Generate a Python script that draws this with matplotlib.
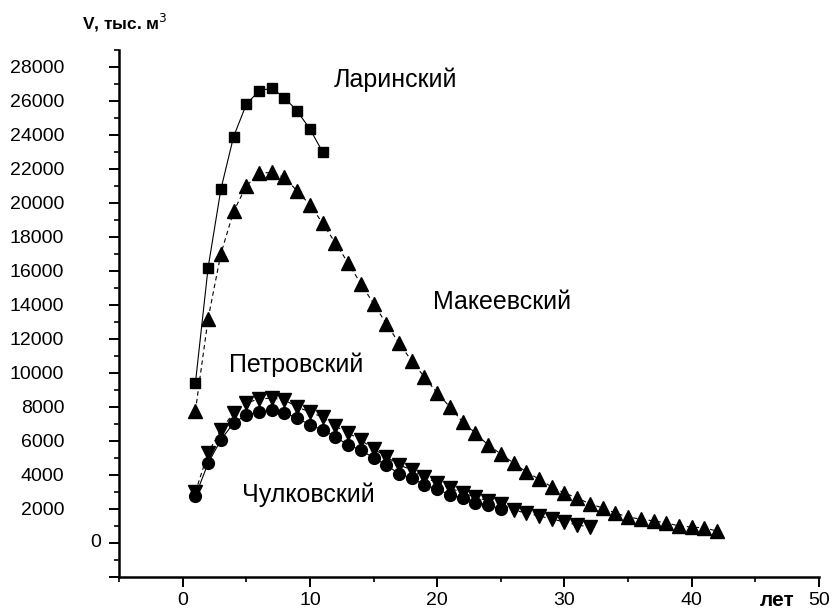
import matplotlib
matplotlib.use("Agg")
import matplotlib.pyplot as plt
from matplotlib.ticker import MultipleLocator, FuncFormatter
import matplotlib.transforms as mtransforms

plt.rcParams["font.family"] = ["Liberation Sans", "DejaVu Sans"]

# years
years_lar = list(range(1, 12))
years_mak = list(range(1, 43))
years_pet = list(range(1, 33))
years_chu = list(range(1, 26))

# V, thousand m3
larinsky = [9400, 16200, 20800, 23900, 25800, 26600, 26750, 26200, 25400, 24350, 23000]
makeevsky = [7760, 13200, 17000, 19500, 21000, 21750, 21800, 21500, 20700, 19900,
             18800, 17650, 16470, 15250, 14080, 12900, 11760, 10700, 9760, 8820,
             8000, 7120, 6470, 5760, 5240, 4700, 4180, 3760, 3300, 2940,
             2650, 2300, 2060, 1760, 1530, 1400, 1300, 1180, 1000, 940,
             880, 700]
petrovsky = [3000, 5300, 6650, 7650, 8240, 8470, 8530, 8410, 8000, 7700,
             7400, 6880, 6470, 6060, 5530, 5080, 4590, 4300, 3880, 3530,
             3240, 2940, 2700, 2470, 2300, 1940, 1760, 1590, 1410, 1240,
             1060, 940]
chulkovsky = [2760, 4700, 6060, 7060, 7530, 7700, 7820, 7650, 7350, 6940,
              6650, 6240, 5760, 5470, 5000, 4590, 4060, 3820, 3410, 3180,
              2820, 2650, 2350, 2240, 2000]

fig = plt.figure(figsize=(8.33, 6.14), dpi=100)
ax = fig.add_axes([0.1429, 0.0603, 0.8403, 0.8583])

ax.plot(years_lar, larinsky, "-", color="black", lw=0.8, marker="s", ms=7.5, zorder=3)
ax.plot(years_mak, makeevsky, "--", color="black", lw=0.8, dashes=(4, 3), marker="^", ms=9.5, zorder=3)
ax.plot(years_pet, petrovsky, "--", color="black", lw=0.8, dashes=(4, 3), marker="v", ms=9.5, zorder=3)
ax.plot(years_chu, chulkovsky, "-", color="black", lw=0.8, marker="o", ms=8.5, zorder=4)

ax.set_xlim(-5, 50)
ax.set_ylim(-2000, 29000)

ax.xaxis.set_major_locator(MultipleLocator(10))
ax.xaxis.set_minor_locator(MultipleLocator(5))
ax.yaxis.set_major_locator(MultipleLocator(2000))
ax.yaxis.set_minor_locator(MultipleLocator(1000))

ax.yaxis.set_major_formatter(FuncFormatter(lambda v, p: "" if v <= 0 else f"{v:.0f}"))
ax.tick_params(axis="both", which="major", direction="out", length=7.5, width=1.4,
               labelsize=14)
ax.tick_params(axis="both", which="minor", direction="out", length=3.5, width=1.2)
ax.tick_params(axis="y", which="major", pad=32)
ax.tick_params(axis="x", which="major", pad=3)

for side in ("right", "top"):
    ax.spines[side].set_visible(False)
for side in ("left", "bottom"):
    ax.spines[side].set_linewidth(1.8)

# zero label sits closer to the axis in the original
trans = mtransforms.blended_transform_factory(ax.transAxes, ax.transData)
ax.text(-0.025, 0, "0", transform=trans, ha="right", va="center", fontsize=14)

ax.text(0.94, -0.045, "лет", transform=ax.transAxes, ha="center", va="center",
        fontsize=15, fontweight="bold")
fig.text(0.098, 0.962, "V, тыс. м$^3$", ha="left", va="center", fontsize=12.5, fontweight="bold")

ax.text(16.7, 27240, "Ларинский", ha="center", va="center", fontsize=18)
ax.text(25.1, 14150, "Макеевский", ha="center", va="center", fontsize=18)
ax.text(8.95, 10470, "Петровский", ha="center", va="center", fontsize=18)
ax.text(9.9, 2820, "Чулковский", ha="center", va="center", fontsize=18)

fig.savefig("out.png", dpi=100)
